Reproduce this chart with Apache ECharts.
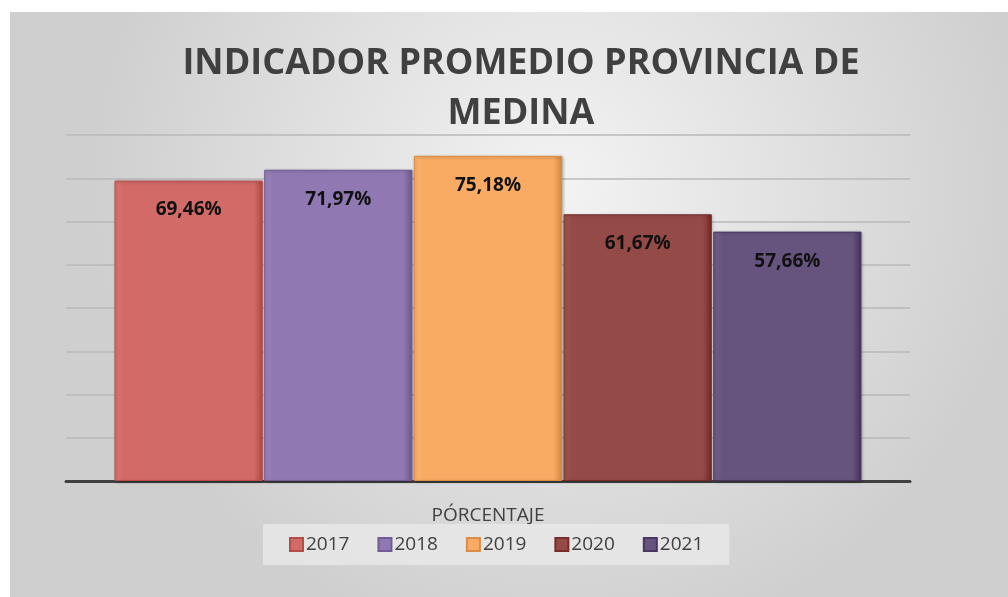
<!DOCTYPE html>
<html>
<head>
<meta charset="utf-8">
<script src="https://cdn.jsdelivr.net/npm/echarts@6/dist/echarts.min.js"></script>
<style>
  html, body { margin: 0; padding: 0; background: #ffffff; }
  #chart { position: absolute; left: 10px; top: 12px; width: 998px; height: 585px; }
</style>
</head>
<body>
<div id="chart"></div>
<script>
// Chart data
const categories = ['PÓRCENTAJE'];
const years = ['2017', '2018', '2019', '2020', '2021'];
const values = [69.46, 71.97, 75.18, 61.67, 57.66];
const colors = ['#D26A67', '#9079B2', '#F9AB63', '#944A47', '#66547F'];

const chart = echarts.init(document.getElementById('chart'));

function shade(hex, amt) {
  const n = parseInt(hex.slice(1), 16);
  let r = (n >> 16) + amt, g = ((n >> 8) & 255) + amt, b = (n & 255) + amt;
  r = Math.max(0, Math.min(255, r)); g = Math.max(0, Math.min(255, g)); b = Math.max(0, Math.min(255, b));
  return 'rgb(' + r + ',' + g + ',' + b + ')';
}

// One series per year, all in the single category
const series = years.map((year, i) => ({
  name: year,
  type: 'bar',
  data: [values[i]],
  barGap: '1%',
  barCategoryGap: '11.5%',
  itemStyle: {
    color: new echarts.graphic.LinearGradient(0, 0, 1, 0, [
      { offset: 0, color: shade(colors[i], 12) },
      { offset: 0.06, color: colors[i] },
      { offset: 0.94, color: colors[i] },
      { offset: 1, color: shade(colors[i], -35) }
    ]),
    borderColor: shade(colors[i], -30),
    borderWidth: 1,
    shadowColor: 'rgba(0,0,0,0.25)',
    shadowBlur: 3,
    shadowOffsetX: 1,
    shadowOffsetY: 1
  },
  label: {
    show: true,
    position: 'insideTop',
    distance: 20,
    formatter: p => p.value.toFixed(2).replace('.', ',') + '%',
    fontFamily: 'Open Sans',
    fontWeight: 'bold',
    fontSize: 19,
    color: '#111111'
  }
}));

chart.setOption({
  backgroundColor: new echarts.graphic.RadialGradient(0.55, 0.3, 0.8, [
    { offset: 0, color: '#f3f3f3' },
    { offset: 1, color: '#cfcfcf' }
  ]),
  color: colors,
  title: {
    text: 'INDICADOR PROMEDIO PROVINCIA DE\nMEDINA',
    left: 506,
    textAlign: 'center',
    top: 22,
    textStyle: {
      fontFamily: 'Open Sans',
      fontWeight: 'bold',
      fontSize: 36,
      lineHeight: 50,
      color: '#404040'
    }
  },
  legend: {
    bottom: 32,
    left: 253,
    itemWidth: 13,
    itemHeight: 13,
    itemGap: 28,
    padding: [11, 26, 11, 26],
    backgroundColor: 'rgba(232,232,232,0.85)',
    icon: 'rect',
    textStyle: { fontFamily: 'Open Sans', fontSize: 19, color: '#404040', padding: [0, 0, 0, -2] }
  },
  grid: { left: 56, right: 98, top: 123, bottom: 116 },
  xAxis: {
    type: 'category',
    data: categories,
    axisLine: { lineStyle: { color: '#404040', width: 3 } },
    axisTick: { show: false },
    axisLabel: { margin: 25, fontFamily: 'Open Sans', fontSize: 19, color: '#404040' }
  },
  yAxis: {
    type: 'value',
    min: 0,
    max: 80,
    interval: 10,
    axisLabel: { show: false },
    axisLine: { show: false },
    splitLine: { lineStyle: { color: '#b8b8b8', width: 1.5 } }
  },
  series: series
});
</script>
</body>
</html>
